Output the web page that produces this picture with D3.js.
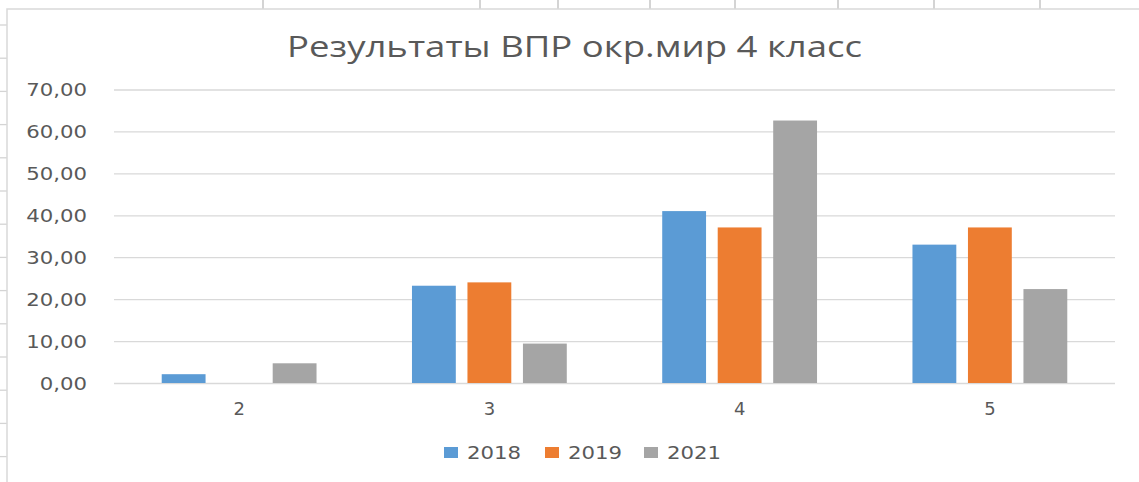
<!DOCTYPE html>
<html>
<head>
<meta charset="utf-8">
<script src="https://cdn.jsdelivr.net/npm/d3@7"></script>
<style>
  body { margin: 0; background: #fff; }
  svg { display: block; }
  .lbl { font-family: "DejaVu Sans", sans-serif; fill: #595959; }
</style>
</head>
<body>
<svg id="chart" width="1139" height="482"></svg>
<script>
// data
const categories = ["2", "3", "4", "5"];
const years = ["2018", "2019", "2021"];
const values2018 = [2.1, 23.2, 41.0, 33.0];
const values2019 = [0, 24.0, 37.1, 37.1];
const values2021 = [4.7, 9.4, 62.6, 22.4];
const yTicks = [0, 10, 20, 30, 40, 50, 60, 70];
const colors = ["#5b9bd5", "#ed7d31", "#a5a5a5"];
const title = "Результаты ВПР окр.мир 4 класс";

const series = [values2018, values2019, values2021];

const W = 1139, H = 482;
const svg = d3.select("#chart");

// spreadsheet bits peeking out around the chart
const colLines = [263, 480, 558, 650, 735, 838, 934, 1040];
svg.selectAll(".col").data(colLines).enter().append("line")
  .attr("x1", d => d).attr("x2", d => d)
  .attr("y1", 0).attr("y2", 9)
  .attr("stroke", "#d4d4d4").attr("stroke-width", 2);
const rowLines = d3.range(14).map(i => 25 + i * 33.2);
svg.selectAll(".row").data(rowLines).enter().append("line")
  .attr("x1", 0).attr("x2", 7)
  .attr("y1", d => d).attr("y2", d => d)
  .attr("stroke", "#d4d4d4").attr("stroke-width", 1.3);

// chart frame
svg.append("rect")
  .attr("x", 7).attr("y", 9)
  .attr("width", W + 10).attr("height", H + 10)
  .attr("fill", "#fff")
  .attr("stroke", "#d9d9d9").attr("stroke-width", 1.5);

// title
svg.append("text")
  .attr("class", "lbl")
  .attr("x", 287).attr("y", 57)
  .attr("textLength", 575)
  .attr("lengthAdjust", "spacingAndGlyphs")
  .style("font-family", "'Open Sans', sans-serif")
  .style("font-size", "29px")
  .text(title);

const x0 = d3.scaleBand()
  .domain(categories)
  .range([114, 1115])
  .padding(0);

const x1 = d3.scaleBand()
  .domain(years)
  .range([0, x0.bandwidth()])
  .paddingInner(0.21)
  .paddingOuter(0.86);

const y = d3.scaleLinear()
  .domain([0, 70])
  .range([383, 89.5]);

// grid
svg.append("g")
  .attr("transform", "translate(114,0)")
  .call(d3.axisLeft(y)
    .tickValues(yTicks)
    .tickSize(-(1115 - 114))
    .tickFormat(""))
  .call(g => g.select(".domain").remove())
  .call(g => g.selectAll("line").attr("stroke", "#d9d9d9").attr("stroke-width", 1.3));

// y labels
const yAx = svg.append("g")
  .attr("transform", "translate(87,0)")
  .call(d3.axisLeft(y)
    .tickValues(yTicks)
    .tickSize(0)
    .tickPadding(0)
    .tickFormat(d => d3.format(".2f")(d).replace(".", ",")));
yAx.select(".domain").remove();
yAx.selectAll("text")
  .attr("class", "lbl")
  .attr("fill", "#595959")
  .style("font-size", "18px")
  .attr("dy", "0.35em")
  .each(function() {
    const w = this.getComputedTextLength();
    d3.select(this).attr("textLength", w * 1.18).attr("lengthAdjust", "spacingAndGlyphs");
  });

// bars
const groups = svg.selectAll(".grp")
  .data(categories)
  .enter().append("g")
  .attr("transform", d => `translate(${x0(d)},0)`);

groups.selectAll("rect")
  .data((c, ci) => years.map((yr, si) => ({ yr, si, v: series[si][ci] })))
  .enter().append("rect")
  .filter(d => d.v > 0)
  .attr("x", d => x1(d.yr))
  .attr("width", x1.bandwidth())
  .attr("y", d => y(d.v))
  .attr("height", d => y(0) - y(d.v))
  .attr("fill", d => colors[d.si]);

// x labels
const xAx = svg.append("g")
  .attr("transform", "translate(0,383)")
  .call(d3.axisBottom(x0).tickSize(0).tickPadding(0));
xAx.select(".domain").remove();
xAx.selectAll("text")
  .attr("class", "lbl")
  .attr("fill", "#595959")
  .attr("dy", 0)
  .attr("y", 32)
  .style("font-size", "18px");

// legend
const legX = [444, 545, 644];
const leg = svg.selectAll(".leg")
  .data(years)
  .enter().append("g")
  .attr("transform", (d, i) => `translate(${legX[i]},447)`);
leg.append("rect")
  .attr("width", 14).attr("height", 11)
  .attr("fill", (d, i) => colors[i]);
leg.append("text")
  .attr("class", "lbl")
  .attr("x", 23).attr("y", 12)
  .style("font-size", "18px")
  .text(d => d)
  .each(function() {
    const w = this.getComputedTextLength();
    d3.select(this).attr("textLength", w * 1.18).attr("lengthAdjust", "spacingAndGlyphs");
  });
</script>
</body>
</html>
